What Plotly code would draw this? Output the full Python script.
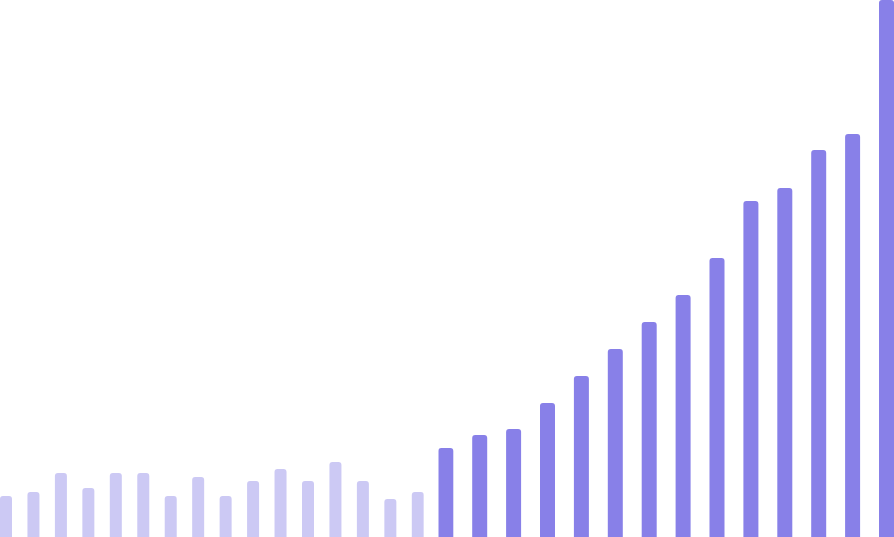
import plotly.graph_objects as go

# bar heights
past_values = [41, 45, 64, 49, 64, 64, 41, 60, 41, 56, 68, 56, 75, 56, 38, 45]
future_values = [89, 102, 108, 134, 161, 188, 215, 242, 279, 336, 349, 387, 403, 537]

light = "#CCC9F4"
dark = "#8880E8"

W, H = 894, 537
w1 = 12 / 27.45   # bar width as fraction of slot, light group
w2 = 15 / 33.9    # dark group

fig = go.Figure()
fig.add_trace(go.Bar(x=list(range(len(past_values))), y=past_values,
                     width=w1, marker=dict(color=light, cornerradius=3, line_width=0),
                     xaxis="x", yaxis="y"))
fig.add_trace(go.Bar(x=list(range(len(future_values))), y=future_values,
                     width=w2, marker=dict(color=dark, cornerradius=3, line_width=0),
                     xaxis="x2", yaxis="y"))

hidden = dict(visible=False, showgrid=False, zeroline=False, fixedrange=True)
fig.update_layout(
    width=W, height=H,
    margin=dict(l=0, r=0, t=0, b=0),
    paper_bgcolor="white", plot_bgcolor="white",
    showlegend=False,
    barmode="overlay",
    xaxis=dict(hidden, domain=[0, 423.8 / W],
               range=[-w1 / 2, len(past_values) - 1 + w1 / 2]),
    xaxis2=dict(hidden, domain=[438.3 / W, 1], anchor="y",
                range=[-w2 / 2, len(future_values) - 1 + w2 / 2]),
    yaxis=dict(hidden, range=[0, max(future_values)]),
)

# page body has an 8px margin by default, drop it so the chart sits at 0,0
fig.write_html("out.html", config={"displayModeBar": False},
               post_script="document.body.style.margin='0';document.body.style.overflow='hidden';")
